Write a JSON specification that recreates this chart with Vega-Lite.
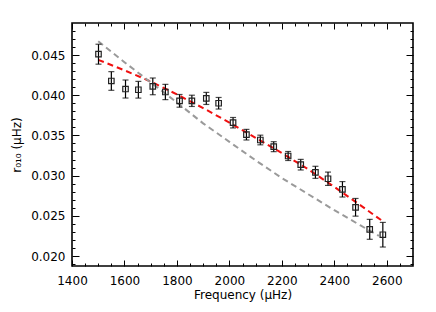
{
  "$schema": "https://vega.github.io/schema/vega-lite/v6.json",
  "width": 341,
  "height": 243,
  "autosize": {"type": "none"},
  "padding": {"left": 72, "top": 23, "right": 23, "bottom": 46},
  "background": "white",
  "datasets": {
    "pts": [
      {"freq": 1501, "r": 0.0451, "lo": 0.04386, "hi": 0.04634},
      {"freq": 1550, "r": 0.04177, "lo": 0.04061, "hi": 0.04293},
      {"freq": 1604, "r": 0.04077, "lo": 0.03965, "hi": 0.04189},
      {"freq": 1653, "r": 0.04068, "lo": 0.03964, "hi": 0.04172},
      {"freq": 1708, "r": 0.0411, "lo": 0.04006, "hi": 0.04214},
      {"freq": 1756, "r": 0.0404, "lo": 0.03945, "hi": 0.04135},
      {"freq": 1810, "r": 0.0393, "lo": 0.03851, "hi": 0.04009},
      {"freq": 1857, "r": 0.0393, "lo": 0.0386, "hi": 0.04},
      {"freq": 1912, "r": 0.0396, "lo": 0.03885, "hi": 0.04035},
      {"freq": 1959, "r": 0.039, "lo": 0.03828, "hi": 0.03972},
      {"freq": 2014, "r": 0.03658, "lo": 0.03593, "hi": 0.03723},
      {"freq": 2065, "r": 0.03509, "lo": 0.03443, "hi": 0.03575},
      {"freq": 2118, "r": 0.03443, "lo": 0.03383, "hi": 0.03503},
      {"freq": 2169, "r": 0.0336, "lo": 0.03298, "hi": 0.03422},
      {"freq": 2224, "r": 0.03244, "lo": 0.03188, "hi": 0.033},
      {"freq": 2272, "r": 0.03136, "lo": 0.0307, "hi": 0.03202},
      {"freq": 2328, "r": 0.03041, "lo": 0.02966, "hi": 0.03116},
      {"freq": 2376, "r": 0.02961, "lo": 0.02878, "hi": 0.03044},
      {"freq": 2431, "r": 0.0283, "lo": 0.02734, "hi": 0.02926},
      {"freq": 2481, "r": 0.02606, "lo": 0.02496, "hi": 0.02716},
      {"freq": 2535, "r": 0.02332, "lo": 0.02208, "hi": 0.02456},
      {"freq": 2585, "r": 0.02265, "lo": 0.02112, "hi": 0.02418}
    ],
    "red": [
      {"freq": 1500, "r": 0.0444},
      {"freq": 1600, "r": 0.0431},
      {"freq": 1700, "r": 0.0417},
      {"freq": 1800, "r": 0.0401},
      {"freq": 1900, "r": 0.0384},
      {"freq": 2000, "r": 0.0366},
      {"freq": 2100, "r": 0.0347},
      {"freq": 2200, "r": 0.0328},
      {"freq": 2300, "r": 0.0308},
      {"freq": 2400, "r": 0.0286},
      {"freq": 2500, "r": 0.0263},
      {"freq": 2590, "r": 0.0242}
    ],
    "gray": [
      {"freq": 1500, "r": 0.0467},
      {"freq": 1600, "r": 0.0441},
      {"freq": 1700, "r": 0.0416},
      {"freq": 1800, "r": 0.0391},
      {"freq": 1900, "r": 0.0365},
      {"freq": 2000, "r": 0.0342},
      {"freq": 2100, "r": 0.0319},
      {"freq": 2200, "r": 0.0297},
      {"freq": 2300, "r": 0.0277},
      {"freq": 2400, "r": 0.0257},
      {"freq": 2500, "r": 0.0238},
      {"freq": 2570, "r": 0.0225}
    ]
  },
  "resolve": {"axis": {"x": "independent", "y": "independent"}},
  "layer": [
    {
      "data": {"name": "red"},
      "mark": {"type": "line", "color": "#f01010", "strokeWidth": 2, "strokeDash": [6, 4]},
      "encoding": {
        "x": {"field": "freq", "type": "quantitative", "scale": {"domain": [1400, 2700], "nice": false, "zero": false},
          "axis": {"orient": "bottom", "ticks": false, "labels": true, "values": [1400, 1600, 1800, 2000, 2200, 2400, 2600], "labelPadding": 9, "labelFlush": false, "labelOverlap": false, "title": "Frequency (μHz)", "titlePadding": 3, "format": "d"}},
        "y": {"field": "r", "type": "quantitative", "scale": {"domain": [0.01876, 0.04898], "nice": false, "zero": false},
          "axis": {"orient": "left", "ticks": false, "labels": true, "values": [0.02, 0.025, 0.03, 0.035, 0.04, 0.045], "format": ".3f", "labelPadding": 7, "labelFlush": false, "labelOverlap": false, "title": "r₀₁₀ (μHz)", "titlePadding": 7}}
      }
    },
    {
      "data": {"name": "gray"},
      "mark": {"type": "line", "color": "#9a9a9a", "strokeWidth": 2, "strokeDash": [6, 4]},
      "encoding": {
        "x": {"field": "freq", "type": "quantitative", "scale": {"domain": [1400, 2700], "nice": false, "zero": false},
          "axis": {"orient": "bottom", "labels": false, "tickSize": -6, "values": [1400, 1600, 1800, 2000, 2200, 2400, 2600], "title": null}},
        "y": {"field": "r", "type": "quantitative", "scale": {"domain": [0.01876, 0.04898], "nice": false, "zero": false},
          "axis": {"orient": "left", "labels": false, "tickSize": -7, "values": [0.02, 0.025, 0.03, 0.035, 0.04, 0.045], "title": null}}
      }
    },
    {
      "data": {"name": "pts"},
      "mark": {"type": "rule", "color": "black", "strokeWidth": 1.2},
      "encoding": {
        "x": {"field": "freq", "type": "quantitative", "scale": {"domain": [1400, 2700], "nice": false, "zero": false},
          "axis": {"orient": "bottom", "labels": false, "tickSize": -3, "values": [1450, 1500, 1550, 1650, 1700, 1750, 1850, 1900, 1950, 2050, 2100, 2150, 2250, 2300, 2350, 2450, 2500, 2550, 2650], "title": null}},
        "y": {"field": "lo", "type": "quantitative", "scale": {"domain": [0.01876, 0.04898], "nice": false, "zero": false},
          "axis": {"orient": "left", "labels": false, "tickSize": -3, "values": [0.019, 0.021, 0.022, 0.023, 0.024, 0.026, 0.027, 0.028, 0.029, 0.031, 0.032, 0.033, 0.034, 0.036, 0.037, 0.038, 0.039, 0.041, 0.042, 0.043, 0.044, 0.046, 0.047, 0.048], "title": null}},
        "y2": {"field": "hi"}
      }
    },
    {
      "data": {"name": "pts"},
      "mark": {"type": "tick", "orient": "horizontal", "color": "black", "size": 6, "thickness": 1.2},
      "encoding": {
        "x": {"field": "freq", "type": "quantitative", "scale": {"domain": [1400, 2700], "nice": false, "zero": false},
          "axis": {"orient": "top", "labels": false, "tickSize": -6, "values": [1400, 1600, 1800, 2000, 2200, 2400, 2600], "title": null}},
        "y": {"field": "lo", "type": "quantitative", "scale": {"domain": [0.01876, 0.04898], "nice": false, "zero": false},
          "axis": {"orient": "right", "labels": false, "tickSize": -7, "values": [0.02, 0.025, 0.03, 0.035, 0.04, 0.045], "title": null}}
      }
    },
    {
      "data": {"name": "pts"},
      "mark": {"type": "tick", "orient": "horizontal", "color": "black", "size": 6, "thickness": 1.2},
      "encoding": {
        "x": {"field": "freq", "type": "quantitative", "scale": {"domain": [1400, 2700], "nice": false, "zero": false},
          "axis": {"orient": "top", "labels": false, "tickSize": -3, "values": [1450, 1500, 1550, 1650, 1700, 1750, 1850, 1900, 1950, 2050, 2100, 2150, 2250, 2300, 2350, 2450, 2500, 2550, 2650], "title": null}},
        "y": {"field": "hi", "type": "quantitative", "scale": {"domain": [0.01876, 0.04898], "nice": false, "zero": false},
          "axis": {"orient": "right", "labels": false, "tickSize": -3, "values": [0.019, 0.021, 0.022, 0.023, 0.024, 0.026, 0.027, 0.028, 0.029, 0.031, 0.032, 0.033, 0.034, 0.036, 0.037, 0.038, 0.039, 0.041, 0.042, 0.043, 0.044, 0.046, 0.047, 0.048], "title": null}}
      }
    },
    {
      "data": {"name": "pts"},
      "mark": {"type": "point", "shape": "square", "filled": false, "stroke": "#222222", "strokeWidth": 1.2, "size": 30, "opacity": 1},
      "encoding": {
        "x": {"field": "freq", "type": "quantitative", "scale": {"domain": [1400, 2700], "nice": false, "zero": false}, "axis": null},
        "y": {"field": "r", "type": "quantitative", "scale": {"domain": [0.01876, 0.04898], "nice": false, "zero": false}, "axis": null}
      }
    }
  ],
  "config": {
    "view": {"stroke": "black", "strokeWidth": 1.6},
    "axis": {"domain": false, "grid": false, "tickColor": "black", "tickWidth": 1, "labelColor": "black", "labelFont": "DejaVu Sans", "labelFontSize": 12, "titleFont": "DejaVu Sans", "titleFontSize": 12, "titleFontWeight": "normal", "titleColor": "black"}
  }
}
